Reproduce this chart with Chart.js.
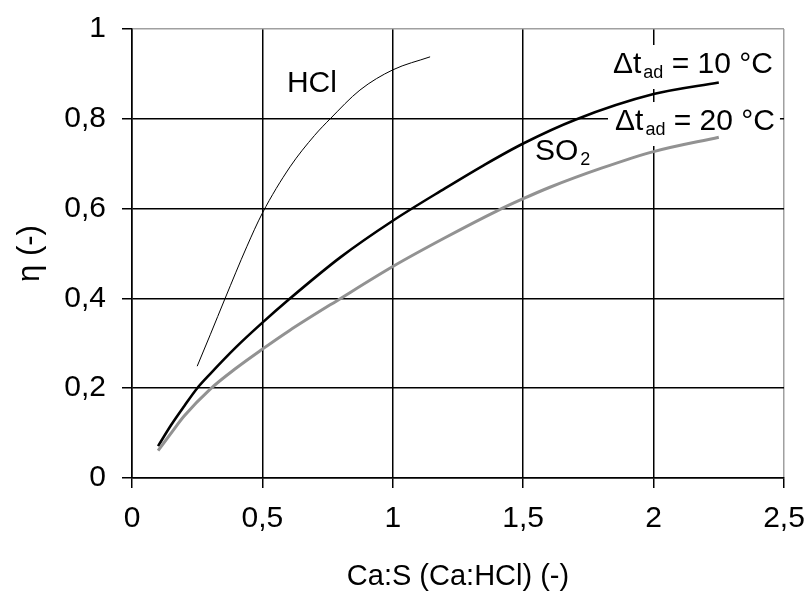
<!DOCTYPE html>
<html><head><meta charset="utf-8">
<script src="https://cdn.jsdelivr.net/npm/chart.js@4/dist/chart.umd.min.js"></script>
<style>html,body{margin:0;padding:0;background:#fff;}canvas{display:block;}</style>
</head><body>
<canvas id="c" width="808" height="598"></canvas>
<script>
// ---- data ----
const xTicks = [0, 0.5, 1, 1.5, 2, 2.5];
const yTicks = [0, 0.2, 0.4, 0.6, 0.8, 1];

const dt10X = [0.1, 0.15, 0.2, 0.25, 0.3, 0.4, 0.5, 0.6, 0.8, 1.0, 1.2, 1.35, 1.5, 1.7, 2.0, 2.25];
const dt10Y = [0.071, 0.118, 0.160, 0.200, 0.232, 0.292, 0.346, 0.397, 0.492, 0.573, 0.645, 0.697, 0.745, 0.798, 0.855, 0.881];

const dt20X = [0.1, 0.15, 0.2, 0.3, 0.4, 0.5, 0.6, 0.8, 1.0, 1.2, 1.4, 1.5, 1.6, 1.8, 2.0, 2.25];
const dt20Y = [0.061, 0.100, 0.138, 0.198, 0.245, 0.287, 0.327, 0.400, 0.471, 0.535, 0.595, 0.622, 0.647, 0.690, 0.727, 0.759];

const hclX = [0.25, 0.3, 0.357, 0.44, 0.5, 0.606, 0.7, 0.76, 0.874, 1.0, 1.143];
const hclY = [0.249, 0.319, 0.400, 0.515, 0.590, 0.693, 0.763, 0.800, 0.864, 0.909, 0.938];

const xTitle = 'Ca:S (Ca:HCl) (-)';
const yTitle = 'η (-)';

const FONT = "'Liberation Sans', Arial, Helvetica, sans-serif";
Chart.defaults.font.family = FONT;
Chart.defaults.color = '#000';

const pts = (xs, ys) => xs.map((x, i) => ({x, y: ys[i]}));
const fmt = v => String(+(+v).toFixed(1)).replace('.', ',');

const curveLabels = [
  {parts: [['HCl', false]], x: 0.594, y: 0.860, size: 30, box: false},
  {parts: [['Δt', false], ['ad', true], [' = 10 °C', false]], x: 1.844, y: 0.902, size: 30, box: true},
  {parts: [['Δt', false], ['ad', true], [' = 20 °C', false]], x: 1.852, y: 0.775, size: 30, box: true},
  {parts: [['SO', false], ['2', true]], x: 1.545, y: 0.708, size: 30, box: false}
];
const SUB = 18;

function measure(ctx, lab) {
  let w = 0;
  lab.parts.forEach(([t, sub]) => {
    ctx.font = (sub ? SUB : lab.size) + 'px ' + FONT;
    w += ctx.measureText(t).width + (sub ? 2 : 0);
  });
  return w;
}

const annot = {
  id: 'annot',
  beforeDatasetsDraw(chart) {
    const ctx = chart.ctx, xs = chart.scales.x, ys = chart.scales.y;
    ctx.save();
    curveLabels.forEach(lab => {
      if (!lab.box) return;
      const px = xs.getPixelForValue(lab.x), py = ys.getPixelForValue(lab.y);
      const w = measure(ctx, lab);
      ctx.fillStyle = '#fff';
      ctx.fillRect(px - 7, py - 28, Math.min(w + 12, chart.chartArea.right - 2 - (px - 7)), 44);
    });
    ctx.restore();
  },
  afterDatasetsDraw(chart) {
    const ctx = chart.ctx, xs = chart.scales.x, ys = chart.scales.y;
    ctx.save();
    ctx.fillStyle = '#000';
    ctx.textBaseline = 'alphabetic';
    ctx.textAlign = 'left';
    curveLabels.forEach(lab => {
      let px = xs.getPixelForValue(lab.x);
      const py = ys.getPixelForValue(lab.y);
      lab.parts.forEach(([t, sub]) => {
        ctx.font = (sub ? SUB : lab.size) + 'px ' + FONT;
        if (sub) px += 2;
        ctx.fillText(t, px, py + (sub ? 5 : 0));
        px += ctx.measureText(t).width;
      });
    });
    ctx.restore();
  }
};

function noPad(s) { s.paddingLeft = 0; s.paddingRight = 0; s.paddingTop = 0; s.paddingBottom = 0; }

new Chart(document.getElementById('c'), {
  type: 'line',
  data: {
    datasets: [
      {label: 'HCl', data: pts(hclX, hclY), borderColor: '#000', borderWidth: 1, pointRadius: 0, cubicInterpolationMode: 'monotone', fill: false},
      {label: 'Δt 20', data: pts(dt20X, dt20Y), borderColor: '#929292', borderWidth: 3, pointRadius: 0, cubicInterpolationMode: 'monotone', fill: false},
      {label: 'Δt 10', data: pts(dt10X, dt10Y), borderColor: '#000', borderWidth: 2.6, pointRadius: 0, cubicInterpolationMode: 'monotone', fill: false}
    ]
  },
  options: {
    responsive: false,
    animation: false,
    devicePixelRatio: 1,
    layout: {padding: {left: 0, top: 29, right: 24, bottom: 0}},
    plugins: {legend: {display: false}, tooltip: {enabled: false}},
    scales: {
      x: {
        type: 'linear', min: 0, max: 2.5,
        afterBuildTicks: s => { s.ticks = xTicks.map(v => ({value: v})); },
        afterFit: s => { s.height = 120; noPad(s); },
        ticks: {font: {size: 30}, padding: 13, callback: fmt, maxRotation: 0, autoSkip: false},
        grid: {color: c => (c.tick && c.tick.value === 2.5) ? '#a0a0a0' : '#000', lineWidth: 1.5, tickLength: 10, tickColor: '#000'},
        border: {display: true, color: '#000', width: 1.5},
        title: {display: true, text: xTitle, font: {size: 29}, padding: {top: 0, bottom: 4}}
      },
      y: {
        type: 'linear', min: 0, max: 1,
        afterBuildTicks: s => { s.ticks = yTicks.map(v => ({value: v})); },
        afterFit: s => { s.width = 132; noPad(s); },
        ticks: {font: {size: 30}, padding: 16, callback: fmt, autoSkip: false},
        grid: {color: c => (c.tick && c.tick.value === 1) ? '#a0a0a0' : '#000', lineWidth: 1.5, tickLength: 10, tickColor: '#000'},
        border: {display: true, color: '#000', width: 1.5},
        title: {display: true, text: yTitle, font: {size: 31}, padding: {top: 12, bottom: 0}}
      }
    }
  },
  plugins: [annot]
});
</script>
</body></html>
